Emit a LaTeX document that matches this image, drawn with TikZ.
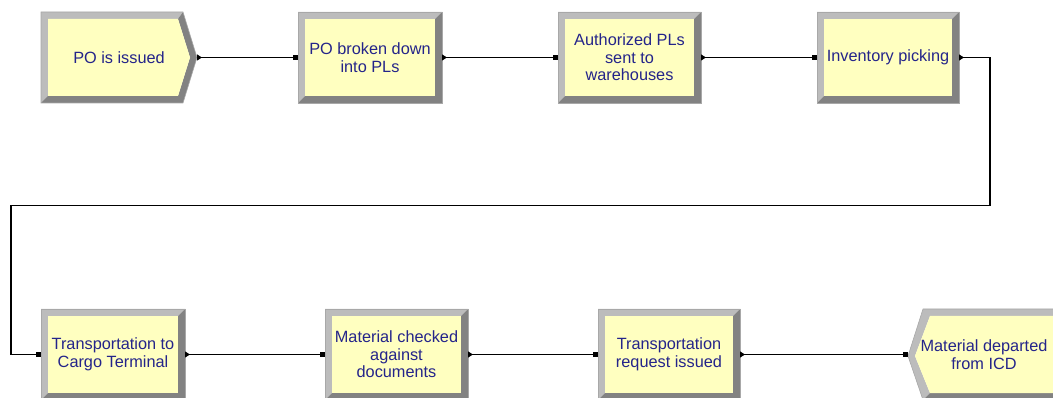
\documentclass[tikz,border=0pt]{standalone}
\usepackage{fontspec}
\setmainfont{Liberation Sans}
\usetikzlibrary{arrows.meta}
\definecolor{boxfill}{HTML}{FFFFC0}
\definecolor{bevlight}{HTML}{BCBCBC}
\definecolor{bevdark}{HTML}{828282}
\definecolor{bevedge}{HTML}{A8A8A8}
\definecolor{txtnavy}{HTML}{24248A}
\newcommand\bevrect[4]{%
  \fill[bevlight] (#1,#2) -- (#3,#2) -- (#3-7,#2+7) -- (#1+7,#2+7) -- (#1+7,#4-7) -- (#1,#4) -- cycle;
  \fill[bevdark] (#3,#2) -- (#3,#4) -- (#1,#4) -- (#1+7,#4-7) -- (#3-7,#4-7) -- (#3-7,#2+7) -- cycle;
  \fill[boxfill] (#1+7,#2+7) rectangle (#3-7,#4-7);
  \draw[bevedge,line width=0.6] (#1,#2) rectangle (#3,#4);
}
\tikzset{
  label/.style={inner sep=0, outer sep=0, align=center, text=txtnavy,
    font=\fontsize{16.3}{17.6}\selectfont},
  conn/.style={line width=1.1, black, {Triangle[reversed,length=5,width=6]}-{Square[length=5,width=5]}}
}
\begin{document}
\begin{tikzpicture}[x=1pt,y=-1pt]
\useasboundingbox (0,0) rectangle (1053,398);
\clip (0,0) rectangle (1053,398);
% box 1: create chevron
\fill[bevlight] (41,12) -- (183,12) -- (178,19) -- (48,19) -- (48,96) -- (41,103) -- cycle;
\fill[bevdark] (183,12) -- (197,57.5) -- (183,103) -- (41,103) -- (48,96) -- (178,96) -- (190,57.5) -- (178,19) -- cycle;
\fill[boxfill] (48,19) -- (178,19) -- (190,57.5) -- (178,96) -- (48,96) -- cycle;
\draw[bevedge,line width=0.6] (41,12) -- (183,12) -- (197,57.5) -- (183,103) -- (41,103) -- cycle;
\node[label, minimum width=156, minimum height=91] (b1) at (119,57.5) {PO is issued};
% top row
\bevrect{298}{12}{442}{103}
\node[label, minimum width=144, minimum height=91] (b2) at (370,57.5) {PO broken down\\into PLs};
\bevrect{558}{12}{701}{103}
\node[label, minimum width=143, minimum height=91] (b3) at (629.5,57.5) {Authorized PLs\\sent to\\warehouses};
\bevrect{817}{12}{959}{103}
\node[label, minimum width=142, minimum height=91] (b4) at (888,57.5) {Inventory picking};
% bottom row
\bevrect{41}{309}{185}{400}
\node[label, minimum width=144, minimum height=91] (b5) at (113,354.5) {Transportation to\\Cargo Terminal};
\bevrect{325}{309}{468}{400}
\node[label, minimum width=143, minimum height=91] (b6) at (396.5,354.5) {Material checked\\against\\documents};
\bevrect{598}{309}{740}{400}
\node[label, minimum width=142, minimum height=91] (b7) at (669,354.5) {Transportation\\request issued};
% box 8: dispose
\fill[bevlight] (923,309) -- (1060,309) -- (1053,316) -- (930,316) -- (915,356) -- (930,393) -- (923,400) -- (908,356) -- cycle;
\fill[bevdark] (1060,309) -- (1060,400) -- (923,400) -- (930,393) -- (1053,393) -- (1053,316) -- cycle;
\fill[boxfill] (930,316) -- (1053,316) -- (1053,393) -- (930,393) -- (915,356) -- cycle;
\draw[bevedge,line width=0.6] (923,309) -- (1060,309) -- (1060,400) -- (923,400) -- (908,356) -- cycle;
\node[label, minimum width=152, minimum height=91] (b8) at (984,354.5) {Material departed\\from ICD};
% connectors
\draw[conn] (b1.east) -- (b2.west);
\draw[conn] (b2.east) -- (b3.west);
\draw[conn] (b3.east) -- (b4.west);
\coordinate (r1) at (990,205.5);
\coordinate (l1) at (11,205.5);
\draw[conn] (b4.east) -| (r1) -- (l1) |- (b5.west);
\draw[conn] (b5.east) -- (b6.west);
\draw[conn] (b6.east) -- (b7.west);
\draw[conn] (b7.east) -- (b8.west);
\end{tikzpicture}
\end{document}
